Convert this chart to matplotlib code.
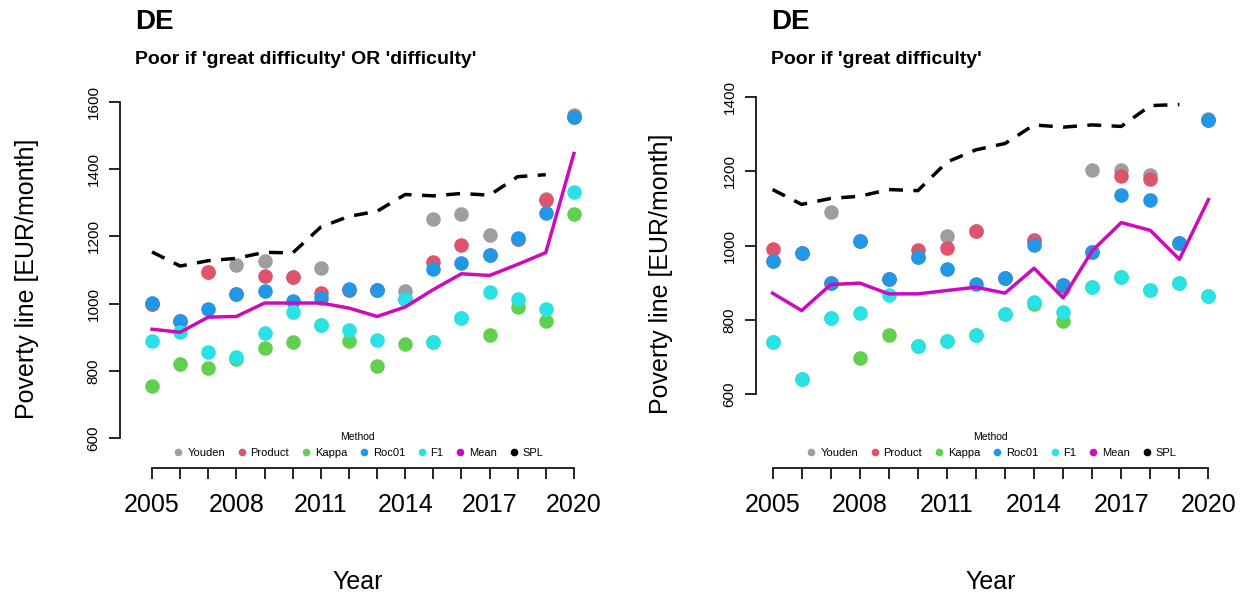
import matplotlib.pyplot as plt
from matplotlib.lines import Line2D
import numpy as np

plt.rcParams['font.family'] = ['Liberation Sans', 'DejaVu Sans']

years = np.arange(2005, 2021)

# left panel: 'great difficulty' OR 'difficulty'
l_youden = [1000, 948, 1095, 1115, 1127, 1079, 1106, 1042, 1040, 1038, 1253, 1267, 1204, 1192, 1312, 1562]
l_product = [1000, 948, 1095, 1028, 1083, 1079, 1032, 1042, 1040, 1015, 1125, 1175, 1144, 1192, 1310, 1557]
l_kappa = [756, 820, 808, 834, 869, 887, 938, 888, 816, 879, 887, 958, 907, 990, 948, 1268]
l_roc01 = [1002, 949, 985, 1028, 1038, 1007, 1017, 1043, 1041, 1015, 1102, 1121, 1144, 1195, 1270, 1557]
l_f1 = [889, 917, 857, 842, 912, 974, 938, 922, 893, 1015, 887, 958, 1036, 1015, 983, 1333]
l_mean = [924, 915, 960, 962, 1002, 1002, 1002, 987, 962, 990, 1042, 1089, 1084, 1117, 1152, 1447]
l_spl = [1154, 1112, 1128, 1135, 1153, 1151, 1228, 1260, 1275, 1325, 1321, 1328, 1323, 1378, 1384, None]

# right panel: 'great difficulty'
r_youden = [959, 980, 1091, 1012, 910, 968, 1026, 1038, 912, 1012, 883, 1204, 1204, 1191, 1007, 1340]
r_product = [992, 980, 899, 1012, 910, 988, 993, 1038, 912, 1014, 895, 984, 1188, 1179, 1007, 1337]
r_kappa = [740, 642, 806, 698, 758, 729, 742, 759, 816, 843, 798, 888, 915, 880, 898, 864]
r_roc01 = [959, 980, 899, 1012, 910, 968, 937, 896, 912, 1001, 895, 984, 1136, 1124, 1007, 1337]
r_f1 = [740, 642, 806, 818, 868, 729, 742, 759, 816, 848, 820, 888, 915, 880, 898, 864]
r_mean = [872, 825, 895, 899, 870, 870, 879, 888, 872, 939, 859, 986, 1062, 1041, 963, 1124]
r_spl = [1151, 1111, 1127, 1133, 1151, 1148, 1225, 1258, 1275, 1325, 1319, 1325, 1321, 1377, 1380, None]

methods = ['Youden', 'Product', 'Kappa', 'Roc01', 'F1', 'Mean', 'SPL']
colors = ['#9E9E9E', '#DF536B', '#61D04F', '#2297E6', '#28E2E5', '#CD0BBC', 'black']

W, H = 1248, 599
fig = plt.figure(figsize=(W / 100, H / 100), dpi=100)


def panel(x0, x1, y0, y1, xlim, ylim, yticks, series, mean, spl, subtitle, ylpad):
    ax = fig.add_axes([x0 / W, 1 - y1 / H, (x1 - x0) / W, (y1 - y0) / H])
    for vals, c in zip(series, colors[:5]):
        ax.scatter(years, vals, s=110, color=c, zorder=3, linewidths=0)
    ax.plot(years, mean, color=colors[5], lw=2.5, zorder=4)
    sx = [y for y, v in zip(years, spl) if v is not None]
    sv = [v for v in spl if v is not None]
    ax.plot(sx, sv, color='black', lw=2.5, ls=(0, (4, 3)), zorder=4)
    ax.set_xlim(*xlim)
    ax.set_ylim(*ylim)
    for s in ['top', 'right']:
        ax.spines[s].set_visible(False)
    ax.spines['left'].set_bounds(yticks[0], yticks[-1])
    ax.spines['bottom'].set_bounds(2005, 2020)
    ax.set_yticks(yticks)
    ax.set_yticklabels([str(t) for t in yticks], rotation=90, va='center', fontsize=11)
    ax.set_xticks(years)
    ax.set_xticklabels([str(y) if (y - 2005) % 3 == 0 else '' for y in years], fontsize=18)
    ax.tick_params(length=8, width=1.2, pad=6)
    ax.tick_params(axis='x', pad=10)
    for s in ['left', 'bottom']:
        ax.spines[s].set_linewidth(1.2)
    ax.set_xlabel('Year', fontsize=18, labelpad=38)
    ax.set_ylabel('Poverty line [EUR/month]', fontsize=18, labelpad=ylpad)
    handles = [Line2D([], [], ls='', marker='o', color=c, markersize=4.5) for c in colors]
    ax.legend(handles, methods, ncol=7, frameon=False, fontsize=8, title='Method',
              title_fontsize=7.5, loc='lower center', bbox_to_anchor=(0.5, 0.0),
              handletextpad=0.2, columnspacing=0.9, handlelength=1.2)
    fig.text((x0 + 15) / W, 1 - 22 / H, 'DE', fontsize=20, fontweight='bold', va='center')
    fig.text((x0 + 15) / W, 1 - 60 / H, subtitle, fontsize=14, fontweight='bold', va='center')
    return ax


panel(120, 595, 90, 468, (2003.86, 2020.75), (511, 1636), [600, 800, 1000, 1200, 1400, 1600],
      [l_youden, l_product, l_kappa, l_roc01, l_f1], l_mean, l_spl,
      "Poor if 'great difficulty' OR 'difficulty'", 34)
panel(756, 1225, 80, 468, (2004.43, 2020.57), (401, 1446), [600, 800, 1000, 1200, 1400],
      [r_youden, r_product, r_kappa, r_roc01, r_f1], r_mean, r_spl,
      "Poor if 'great difficulty'", 36)

plt.savefig('out.png', dpi=100)
